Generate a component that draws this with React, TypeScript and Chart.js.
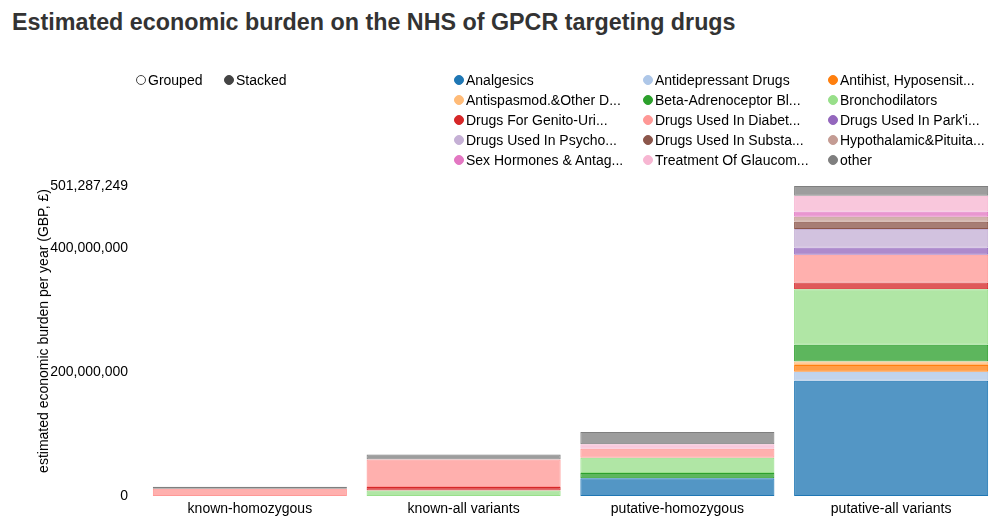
import React, { useEffect, useRef } from "react";
import { Chart, registerables } from "chart.js";

Chart.register(...registerables);

const categories = ["known-homozygous", "known-all variants", "putative-homozygous", "putative-all variants"];

const seriesNames = [
  "Analgesics",
  "Antidepressant Drugs",
  "Antihist, Hyposensit...",
  "Antispasmod.&Other D...",
  "Beta-Adrenoceptor Bl...",
  "Bronchodilators",
  "Drugs For Genito-Uri...",
  "Drugs Used In Diabet...",
  "Drugs Used In Park'i...",
  "Drugs Used In Psycho...",
  "Drugs Used In Substa...",
  "Hypothalamic&Pituita...",
  "Sex Hormones & Antag...",
  "Treatment Of Glaucom...",
  "other",
];

const seriesColors = [
  "#1f77b4", "#aec7e8", "#ff7f0e", "#ffbb78", "#2ca02c", "#98df8a", "#d62728", "#ff9896",
  "#9467bd", "#c5b0d5", "#8c564b", "#c49c94", "#e377c2", "#f7b6d2", "#7f7f7f",
];

// values per category (GBP per year)
const analgesics = [0, 0, 28900000, 186400000];
const antidepressant = [0, 0, 0, 14600000];
const antihist = [0, 0, 0, 10900000];
const antispasmod = [0, 0, 0, 5400000];
const betaAdrenoceptor = [0, 0, 8100000, 27100000];
const bronchodilators = [0, 9000000, 25000000, 90000000];
const genitoUrinary = [0, 5400000, 0, 10700000];
const diabetes = [11800000, 44500000, 14600000, 45000000];
const parkinsonism = [0, 0, 0, 11900000];
const psychoses = [0, 0, 0, 29900000];
const substanceDep = [0, 0, 0, 11400000];
const hypothalamic = [0, 0, 0, 8100000];
const sexHormones = [0, 0, 0, 8800000];
const glaucoma = [0, 0, 7000000, 25200000];
const other = [3200000, 8100000, 20000000, 15887249];

const seriesValues = [
  analgesics, antidepressant, antihist, antispasmod, betaAdrenoceptor, bronchodilators,
  genitoUrinary, diabetes, parkinsonism, psychoses, substanceDep, hypothalamic, sexHormones,
  glaucoma, other,
];

const yMax = 501287249;
const yTicks = [0, 200000000, 400000000, yMax];

const FONT = "'Liberation Sans', Arial, Helvetica, sans-serif";
const FS = 14;

function hexToRgba(hex: string, a: number) {
  const n = parseInt(hex.slice(1), 16);
  return `rgba(${(n >> 16) & 255},${(n >> 8) & 255},${n & 255},${a})`;
}

const legendColX = [459, 648, 833];
const legendRowY = [80, 100, 120, 140, 160];

export default function App() {
  const ref = useRef<HTMLCanvasElement | null>(null);

  useEffect(() => {
    if (!ref.current) return;
    Chart.defaults.font.family = FONT;
    const chart = new Chart(ref.current, {
      type: "bar",
      data: {
        labels: categories,
        datasets: seriesNames.map((name, i) => ({
          label: name,
          data: seriesValues[i],
          backgroundColor: hexToRgba(seriesColors[i], 0.77),
          borderColor: seriesColors[i],
          borderWidth: 1,
          borderSkipped: false,
          barPercentage: 0.908,
          categoryPercentage: 1,
        })),
      },
      options: {
        responsive: false,
        animation: false,
        layout: { padding: { top: 186, right: 8, bottom: 0, left: 0 } },
        plugins: {
          legend: { display: false },
          tooltip: { enabled: false },
          title: { display: false },
        },
        scales: {
          x: {
            stacked: true,
            grid: { display: false, drawTicks: false },
            border: { display: false },
            ticks: { color: "#000", font: { family: FONT, size: FS }, padding: 5, maxRotation: 0 },
            afterFit: (s: any) => {
              s.height = 36;
            },
          },
          y: {
            stacked: true,
            min: 0,
            max: yMax,
            grid: { display: false, drawTicks: false },
            border: { display: false },
            afterBuildTicks: (s: any) => {
              s.ticks = yTicks.map((v) => ({ value: v }));
            },
            ticks: {
              color: "#000",
              font: { family: FONT, size: FS },
              padding: 15,
              autoSkip: false,
              callback: (v: any) => Number(v).toLocaleString("en-US"),
            },
            afterFit: (s: any) => {
              s.width = 143;
            },
          },
        },
      },
    } as any);
    return () => chart.destroy();
  }, []);

  const legendItem = (cx: number, cy: number, color: string, fill: string, text: string, key: string) => (
    <div key={key} style={{ position: "absolute", left: cx - 5, top: cy - 8, height: 16, display: "flex", alignItems: "center", whiteSpace: "nowrap" }}>
      <span
        style={{
          display: "inline-block",
          width: 8,
          height: 8,
          borderRadius: "50%",
          border: `1px solid ${color}`,
          background: fill,
          marginRight: 2,
        }}
      />
      <span style={{ fontFamily: FONT, fontSize: FS, color: "#000", lineHeight: "16px" }}>{text}</span>
    </div>
  );

  return (
    <div style={{ position: "absolute", left: 0, top: 0, width: 1006, height: 532, background: "#fff", overflow: "hidden" }}>
      <div
        style={{
          position: "absolute",
          left: 12,
          top: 8,
          fontFamily: FONT,
          fontWeight: "bold",
          fontSize: 23.3,
          color: "#333",
          whiteSpace: "nowrap",
          lineHeight: "28px",
        }}
      >
        Estimated economic burden on the NHS of GPCR targeting drugs
      </div>
      <canvas ref={ref} width={1006} height={532} style={{ position: "absolute", left: 0, top: 0, width: 1006, height: 532 }} />
      <div
        style={{
          position: "absolute",
          left: 43 - 200,
          top: 331 - 8,
          width: 400,
          height: 16,
          lineHeight: "16px",
          textAlign: "center",
          fontFamily: FONT,
          fontSize: FS,
          color: "#000",
          whiteSpace: "nowrap",
          transform: "rotate(-90deg)",
          transformOrigin: "50% 50%",
        }}
      >
        estimated economic burden per year (GBP, £)
      </div>
      {legendItem(141, 80, "#444", "#fff", "Grouped", "g")}
      {legendItem(229, 80, "#444", "#444", "Stacked", "s")}
      {seriesNames.map((name, i) =>
        legendItem(legendColX[i % 3], legendRowY[Math.floor(i / 3)], seriesColors[i], seriesColors[i], name, "l" + i)
      )}
    </div>
  );
}
